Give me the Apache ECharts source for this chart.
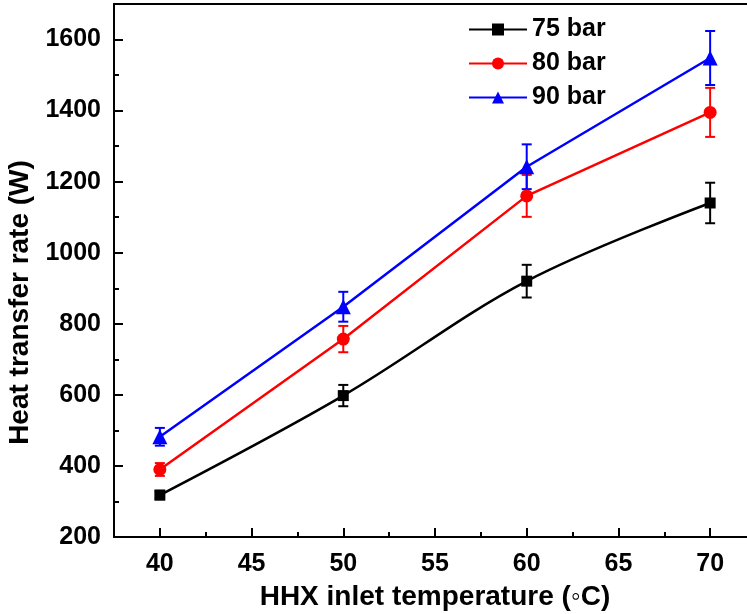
<!DOCTYPE html>
<html>
<head>
<meta charset="utf-8">
<script src="https://cdn.jsdelivr.net/npm/echarts@6/dist/echarts.min.js"></script>
<style>
html,body{margin:0;padding:0;background:#fff;}
#chart{width:747px;height:614px;}
</style>
</head>
<body>
<div id="chart"></div>
<script>
const temps = [40, 50, 60, 70];
const seriesNames = ['75 bar', '80 bar', '90 bar'];
const bar75 = [318, 598, 920, 1140];
const err75 = [12, 30, 46, 57];
const bar80 = [390, 757, 1160, 1395];
const err80 = [18, 37, 59, 69];
const bar90 = [482, 848, 1242, 1548];
const err90 = [25, 42, 63, 76];
const xTicks = [40, 45, 50, 55, 60, 65, 70];
const xMinorTicks = [42.5, 47.5, 52.5, 57.5, 62.5, 67.5];
const yTicks = [200, 400, 600, 800, 1000, 1200, 1400, 1600];
const yMinorTicks = [300, 500, 700, 900, 1100, 1300, 1500];

const colors = ['#000000', '#ff0000', '#0000ff'];
const symbols = ['rect', 'circle', 'triangle'];
const symbolSizes = [11, 13, 15];
const values = [bar75, bar80, bar90];
const errs = [err75, err80, err90];
const font = 'Liberation Sans, Arial, sans-serif';
const X_MIN = 37.5, X_MAX = 72.5, Y_MIN = 200, Y_MAX = 1700;

const chart = echarts.init(document.getElementById('chart'));

const lineSeries = values.map((vals, i) => ({
  name: seriesNames[i],
  type: 'line',
  data: temps.map((t, j) => [t, vals[j]]),
  smooth: i === 0 ? 0.35 : false,
  symbol: symbols[i],
  symbolSize: symbolSizes[i],
  showAllSymbol: true,
  itemStyle: { color: colors[i] },
  lineStyle: { color: colors[i], width: 2.5 },
  z: 3,
  animation: false
}));

const errSeries = values.map((vals, i) => ({
  name: seriesNames[i] + ' err',
  type: 'custom',
  data: temps.map((t, j) => [t, vals[j] - errs[i][j], vals[j] + errs[i][j]]),
  renderItem: function (params, api) {
    const x = api.value(0);
    const lo = api.coord([x, api.value(1)]);
    const hi = api.coord([x, api.value(2)]);
    const hw = 5;
    const style = { stroke: colors[i], lineWidth: 2, fill: null };
    return {
      type: 'group',
      children: [
        { type: 'line', shape: { x1: lo[0], y1: lo[1], x2: hi[0], y2: hi[1] }, style: style },
        { type: 'line', shape: { x1: lo[0] - hw, y1: lo[1], x2: lo[0] + hw, y2: lo[1] }, style: style },
        { type: 'line', shape: { x1: hi[0] - hw, y1: hi[1], x2: hi[0] + hw, y2: hi[1] }, style: style }
      ]
    };
  },
  z: 2,
  silent: true,
  animation: false
}));

const labelStyle = { fontSize: 25, fontWeight: 'bold', color: '#000', fontFamily: font };
const nameStyle = { fontSize: 28, fontWeight: 'bold', color: '#000', fontFamily: font };

chart.setOption({
  backgroundColor: '#ffffff',
  animation: false,
  grid: {
    left: 114, top: 4, width: 642, height: 533,
    show: true, borderColor: '#000', borderWidth: 2,
    containLabel: false,
    outerBoundsMode: 'none'
  },
  legend: {
    data: seriesNames,
    orient: 'vertical',
    left: 463, top: 12,
    itemWidth: 58, itemHeight: 15, itemGap: 9,
    textStyle: labelStyle
  },
  xAxis: [{
    type: 'value',
    min: X_MIN, max: X_MAX,
    name: 'HHX inlet temperature (\u25E6C)',
    nameLocation: 'middle', nameGap: 46,
    nameTextStyle: nameStyle,
    axisLine: { show: true, lineStyle: { color: '#000', width: 2 } },
    axisTick: { show: true, inside: true, length: 9, customValues: xTicks, lineStyle: { color: '#000', width: 2 } },
    axisLabel: Object.assign({ margin: 15, customValues: xTicks, formatter: v => String(v) }, labelStyle),
    splitLine: { show: false }
  }, {
    type: 'value',
    position: 'bottom', offset: 0,
    min: X_MIN, max: X_MAX,
    axisLine: { show: false },
    axisTick: { show: true, inside: true, length: 5, customValues: xMinorTicks, lineStyle: { color: '#000', width: 2 } },
    axisLabel: { show: false },
    splitLine: { show: false }
  }],
  yAxis: [{
    type: 'value',
    min: Y_MIN, max: Y_MAX,
    name: 'Heat transfer rate (W)',
    nameLocation: 'middle', nameGap: 74,
    nameTextStyle: Object.assign({ padding: [0, 64, 0, 0] }, nameStyle),
    axisLine: { show: true, lineStyle: { color: '#000', width: 2 } },
    axisTick: { show: true, inside: true, length: 9, customValues: yTicks, lineStyle: { color: '#000', width: 2 } },
    axisLabel: Object.assign({ margin: 13, customValues: yTicks, formatter: v => String(v) }, labelStyle),
    splitLine: { show: false }
  }, {
    type: 'value',
    position: 'left', offset: 0,
    min: Y_MIN, max: Y_MAX,
    axisLine: { show: false },
    axisTick: { show: true, inside: true, length: 5, customValues: yMinorTicks, lineStyle: { color: '#000', width: 2 } },
    axisLabel: { show: false },
    splitLine: { show: false }
  }],
  series: errSeries.concat(lineSeries)
});
</script>
</body>
</html>
